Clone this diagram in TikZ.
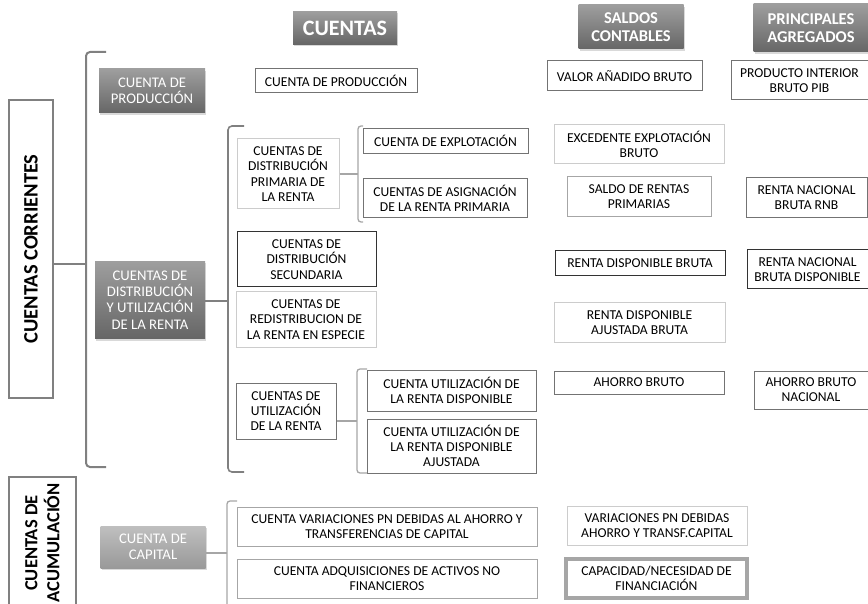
\documentclass[tikz,border=0pt]{standalone}
\usepackage{fontspec}
\setmainfont{Carlito}
\usetikzlibrary{shadows}

\begin{document}
\begin{tikzpicture}[x=1pt, y=-1pt,
  box/.style={draw=black!55, line width=1pt, fill=white, align=center, inner sep=1pt, font=\fontsize{13.6}{15.2}\selectfont},
  darkbox/.style={box, draw=black!80},
  lightbox/.style={box, draw=black!20},
  thickbox/.style={box, draw=black!35, line width=3.5pt},
  head/.style={top color=black!38, bottom color=black!60, text=white, align=center, font=\bfseries\fontsize{16.5}{18}\selectfont,
    drop shadow={shadow xshift=1pt, shadow yshift=-2pt, opacity=.3}},
  cat/.style={head, font=\fontsize{14.7}{16.3}\selectfont},
  lightcat/.style={cat, top color=black!25, bottom color=black!40},
  side/.style={draw=black!50, line width=2.5pt, rotate=90, align=center, font=\bfseries\fontsize{20.5}{22}\selectfont},
  brace/.style={draw=black!50, line width=2pt, rounded corners=4pt},
  smallbrace/.style={brace, draw=black!35, line width=1.3pt, rounded corners=3pt}]
  \useasboundingbox (0,0) rectangle (868,604);

  \node[head, minimum width=104, minimum height=33, font=\bfseries\fontsize{22}{24}\selectfont] (hcuentas) at (345,28) {CUENTAS};
  \node[head, minimum width=105, minimum height=44] (hsaldos) at (631,27) {SALDOS\\CONTABLES};
  \node[head, minimum width=115, minimum height=48] (hagreg) at (811,28) {PRINCIPALES\\AGREGADOS};

  \node[side, minimum width=298, minimum height=44] (corr) at (31,249) {CUENTAS CORRIENTES};
  \node[side, minimum width=132, minimum height=67, font=\bfseries\fontsize{18.5}{22}\selectfont] (acum) at (42.5,543) {CUENTAS DE\\ACUMULACIÓN};

  \node[cat, minimum width=106, minimum height=44] (cprod) at (152,91) {CUENTA DE\\PRODUCCIÓN};
  \node[cat, minimum width=110, minimum height=77] (cdist) at (150,300) {CUENTAS DE\\DISTRIBUCIÓN\\Y UTILIZACIÓN\\DE LA RENTA};
  \node[lightcat, minimum width=105, minimum height=42] (ccap) at (153,547) {CUENTA DE\\CAPITAL};

  \node[box, minimum width=162, minimum height=24] (prod) at (336,81) {CUENTA DE PRODUCCIÓN};
  \node[lightbox, minimum width=102, minimum height=70] (prim) at (288,174) {CUENTAS DE\\DISTRIBUCIÓN\\PRIMARIA DE\\LA RENTA};
  \node[box, minimum width=165, minimum height=25] (explo) at (445.5,141) {CUENTA DE EXPLOTACIÓN};
  \node[box, minimum width=164, minimum height=39] (asig) at (445,198.5) {CUENTAS DE ASIGNACIÓN\\DE LA RENTA PRIMARIA};
  \node[darkbox, minimum width=139, minimum height=55] (secun) at (306.5,259.5) {CUENTAS DE\\DISTRIBUCIÓN\\SECUNDARIA};
  \node[lightbox, minimum width=140, minimum height=55] (espec) at (306,319.5) {CUENTAS DE\\REDISTRIBUCION DE\\LA RENTA EN ESPECIE};
  \node[box, minimum width=100, minimum height=56] (util) at (286,411) {CUENTAS DE\\UTILIZACIÓN\\DE LA RENTA};
  \node[box, minimum width=169, minimum height=41] (udisp) at (451.5,390.5) {CUENTA UTILIZACIÓN DE\\LA RENTA DISPONIBLE};
  \node[box, minimum width=169, minimum height=54] (uajus) at (451.5,446) {CUENTA UTILIZACIÓN DE\\LA RENTA DISPONIBLE\\AJUSTADA};
  \node[box, draw=black!35, minimum width=300, minimum height=39] (varpn) at (387,526.5) {CUENTA VARIACIONES PN DEBIDAS AL AHORRO Y\\TRANSFERENCIAS DE CAPITAL};
  \node[box, draw=black!35, minimum width=300, minimum height=39] (adqui) at (387,578.5) {CUENTA ADQUISICIONES DE ACTIVOS NO\\FINANCIEROS};

  \node[box, minimum width=155, minimum height=30] (vab) at (624.5,76) {VALOR AÑADIDO BRUTO};
  \node[lightbox, minimum width=170, minimum height=39] (exc) at (639,144.5) {EXCEDENTE EXPLOTACIÓN\\BRUTO};
  \node[box, draw=black!35, minimum width=144, minimum height=40] (srp) at (639,197) {SALDO DE RENTAS\\PRIMARIAS};
  \node[darkbox, minimum width=170, minimum height=25] (rdb) at (640,263.5) {RENTA DISPONIBLE BRUTA};
  \node[lightbox, minimum width=171, minimum height=39] (rdab) at (639.5,322.5) {RENTA DISPONIBLE\\AJUSTADA BRUTA};
  \node[box, minimum width=170, minimum height=23] (ab) at (639,382.5) {AHORRO BRUTO};
  \node[lightbox, minimum width=180, minimum height=39] (vpn) at (657,525.5) {VARIACIONES PN DEBIDAS\\AHORRO Y TRANSF.CAPITAL};
  \node[thickbox, minimum width=181, minimum height=39] (cnf) at (656.5,578.5) {CAPACIDAD/NECESIDAD DE\\FINANCIACIÓN};

  \node[box, minimum width=137, minimum height=39] (pib) at (799.5,80.5) {PRODUCTO INTERIOR\\BRUTO PIB};
  \node[box, minimum width=121, minimum height=40] (rnb) at (806.5,198) {RENTA NACIONAL\\BRUTA RNB};
  \node[darkbox, minimum width=121, minimum height=39] (rnbd) at (807.5,269.5) {RENTA NACIONAL\\BRUTA DISPONIBLE};
  \node[box, minimum width=114, minimum height=38] (abn) at (811,390) {AHORRO BRUTO\\NACIONAL};

  \coordinate (aM) at (86,264);
  \coordinate (bM) at (228,301);
  \coordinate (cM) at (227,553);
  \coordinate (dM) at (358,174);
  \coordinate (eM) at (357,421);

  \draw[brace] (106,52) -| (86,467) -- (106,467);
  \draw[brace] (corr.south |- aM) -- (aM);
  \draw[brace, line width=1.6pt] (244,126) -| (228,472) -- (244,472);
  \draw[brace, line width=1.6pt] (cdist.east |- bM) -- (bM);
  \draw[smallbrace] (237,501) -| (227,620);
  \draw[smallbrace] (ccap.east |- cM) -- (cM);
  \draw[smallbrace] (363,126) -| (358,222) -- (363,222);
  \draw[smallbrace] (prim.east |- dM) -- (dM);
  \draw[smallbrace] (367,369) -| (357,473) -- (367,473);
  \draw[smallbrace] (util.east |- eM) -- (eM);
\end{tikzpicture}
\end{document}
